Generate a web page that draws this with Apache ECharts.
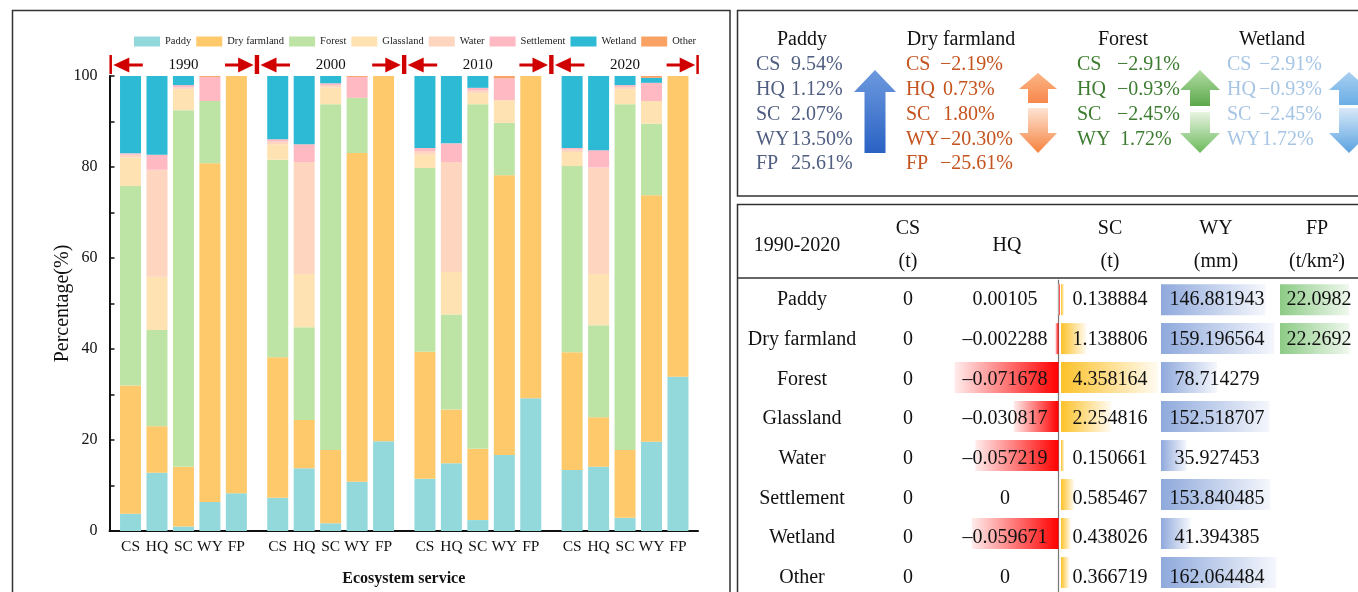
<!DOCTYPE html>
<html><head><meta charset="utf-8">
<script src="https://cdn.jsdelivr.net/npm/echarts@6/dist/echarts.min.js"></script>
<style>html,body{margin:0;padding:0;background:#fff;}#c{width:1358px;height:592px;}</style>
</head><body><div id="c"></div>
<script>
// ---------- left chart data (percent of each land type per bar) ----------
const years = ['1990', '2000', '2010', '2020'];
const services = ['CS', 'HQ', 'SC', 'WY', 'FP'];
const landTypes = ['Paddy', 'Dry farmland', 'Forest', 'Glassland', 'Water', 'Settlement', 'Wetland', 'Other'];
const landColors = ['#93d9dc', '#fec96a', '#bde4a5', '#fee2b1', '#fed5bf', '#feb9c3', '#2dbad4', '#f9a263'];
// order in each array: 1990 CS,HQ,SC,WY,FP | 2000 ... | 2010 ... | 2020 ...
const paddy      = [3.8, 12.8, 1.0, 6.4, 8.3,   7.3, 13.8, 1.7, 10.8, 19.7,   11.5, 14.9, 2.4, 16.7, 29.2,   13.4, 14.1, 2.9, 19.6, 33.9];
const dryFarmland= [28.2, 10.2, 13.1, 74.4, 91.7, 30.9, 10.6, 16.1, 72.3, 80.3, 27.9, 11.8, 15.7, 61.5, 70.8, 25.9, 10.9, 14.9, 54.2, 66.1];
const forest     = [43.8, 21.2, 78.4, 13.7, 0,  43.4, 20.4, 76.0, 12.1, 0,    40.4, 20.9, 75.7, 11.5, 0,    40.9, 20.2, 76.0, 15.7, 0];
const glassland  = [6.3, 11.7, 4.6, 0, 0,       3.4, 11.7, 3.7, 0, 0,         2.9, 9.3, 2.5, 5.0, 0,        3.1, 11.3, 3.3, 5.0, 0];
const water      = [0.6, 23.5, 0.4, 0, 0,       0.6, 24.6, 0.5, 0, 0,         0.8, 24.2, 0.5, 0, 0,         0.5, 23.4, 0.5, 0, 0];
const settlement = [0.3, 3.3, 0.5, 5.3, 0,      0.5, 3.9, 0.4, 4.6, 0,        0.7, 4.1, 0.6, 4.8, 0,        0.4, 3.8, 0.4, 4.0, 0];
const wetland    = [17.0, 17.3, 2.0, 0, 0,      13.9, 15.0, 1.6, 0, 0,        15.8, 14.8, 2.6, 0, 0,        15.8, 16.3, 2.0, 1.1, 0];
const other      = [0, 0, 0, 0.2, 0,            0, 0, 0, 0.2, 0,              0, 0, 0, 0.5, 0,              0, 0, 0, 0.4, 0];
const yTicks = [0, 20, 40, 60, 80, 100];

// ---------- change panel data ----------
const changeServices = ['CS', 'HQ', 'SC', 'WY', 'FP'];
const paddyChange   = [9.54, 1.12, 2.07, 13.50, 25.61];
const dryChange     = [-2.19, 0.73, 1.80, -20.30, -25.61];
const forestChange  = [-2.91, -0.93, -2.45, 1.72];
const wetlandChange = [-2.91, -0.93, -2.45, 1.72];

// ---------- table data (1990-2020 change) ----------
const tableRows = ['Paddy', 'Dry farmland', 'Forest', 'Glassland', 'Water', 'Settlement', 'Wetland', 'Other'];
const csDelta = [0, 0, 0, 0, 0, 0, 0, 0];
const hqDelta = [0.00105, -0.002288, -0.071678, -0.030817, -0.057219, 0, -0.059671, 0];
const scDelta = [0.138884, 1.138806, 4.358164, 2.254816, 0.150661, 0.585467, 0.438026, 0.366719];
const wyDelta = [146.881943, 159.196564, 78.714279, 152.518707, 35.927453, 153.840485, 41.394385, 162.064484];
const fpDelta = [22.0982, 22.2692, null, null, null, null, null, null];

const landData = [paddy, dryFarmland, forest, glassland, water, settlement, wetland, other];
const SERIF = '"Liberation Serif","Times New Roman",serif';

const G0 = 117.3, GW = 132.3, GSTEP = 147.2, TOP = 76, H = 455;
const ROW0 = 300, ROWH = 39.7;
const tTop = ROW0 - ROWH / 2, tH = ROWH * 8;

const grids = [{ left: 109.5, top: TOP, width: 588.5, height: H }];
years.forEach((y, g) => grids.push({ left: G0 + g * GSTEP, top: TOP, width: GW, height: H }));
grids.push({ left: 954, width: 106, top: tTop, height: tH });
grids.push({ left: 1061, width: 111.5, top: tTop, height: tH });
grids.push({ left: 1161, width: 121, top: tTop, height: tH });
grids.push({ left: 1280, width: 100, top: tTop, height: tH });

const xAxes = [{
  type: 'category', gridIndex: 0, data: [''],
  axisLine: { lineStyle: { color: '#111', width: 2 } }, axisTick: { show: false }, axisLabel: { show: false },
  name: 'Ecosystem service', nameLocation: 'middle', nameGap: 40,
  nameTextStyle: { fontFamily: SERIF, fontWeight: 'bold', fontSize: 16, color: '#111' }
}];
const yAxes = [{
  type: 'value', gridIndex: 0, min: yTicks[0], max: yTicks[yTicks.length - 1], interval: 20,
  axisLine: { show: true, lineStyle: { color: '#111', width: 2 } },
  axisTick: { show: true, inside: true, length: 5, lineStyle: { color: '#111', width: 1.5 } },
  minorTick: { show: true, splitNumber: 2, length: 5, lineStyle: { color: '#111', width: 1.5 } },
  splitLine: { show: false },
  axisLabel: { fontFamily: SERIF, fontSize: 16, color: '#111', margin: 12 },
  name: 'Percentage(%)', nameLocation: 'middle', nameGap: 37, nameMoveOverlap: false,
  nameTextStyle: { fontFamily: SERIF, fontSize: 20, color: '#111' }
}];
years.forEach((y, g) => {
  xAxes.push({
    type: 'category', gridIndex: g + 1, data: services,
    axisLine: { show: false }, axisTick: { show: false },
    axisLabel: { interval: 0, fontFamily: SERIF, fontSize: 15.5, color: '#111', margin: 8 }
  });
  yAxes.push({ type: 'value', gridIndex: g + 1, min: 0, max: 100, show: false });
});
const tableRanges = [[-0.072, 0.001], [0, 5], [0, 170], [0, 25]];
tableRanges.forEach((r, i) => {
  xAxes.push({ type: 'value', gridIndex: 5 + i, min: r[0], max: r[1], show: false });
  yAxes.push({
    type: 'category', gridIndex: 5 + i, data: tableRows, inverse: true,
    show: i === 0,
    axisLine: { show: i === 0, onZero: true, lineStyle: { color: '#777', width: 1.2 } },
    axisTick: { show: false }, axisLabel: { show: false }, splitLine: { show: false }
  });
});

const series = [];
landTypes.forEach((name, i) => {
  years.forEach((y, g) => {
    series.push({
      type: 'bar', name: name, xAxisIndex: g + 1, yAxisIndex: g + 1, stack: 'grp' + g,
      barWidth: 21, data: landData[i].slice(g * 5, g * 5 + 5),
      itemStyle: { color: landColors[i] }, emphasis: { disabled: true }
    });
  });
});
function hgrad(c0, c1) {
  return { type: 'linear', x: 0, y: 0, x2: 1, y2: 0, colorStops: [{ offset: 0, color: c0 }, { offset: 1, color: c1 }] };
}
const tableSeries = [
  { data: hqDelta, color: hgrad('#ffecec', '#ff0000') },
  { data: scDelta, color: hgrad('#fdc22a', '#fffbf2') },
  { data: wyDelta, color: hgrad('#8fa9dc', '#f5f7fc') },
  { data: fpDelta, color: hgrad('#8ccb86', '#f0f8ee') }
];
tableSeries.forEach((t, i) => {
  series.push({
    type: 'bar', xAxisIndex: 5 + i, yAxisIndex: 5 + i, barWidth: 31, data: t.data,
    itemStyle: { color: t.color }, emphasis: { disabled: true }, silent: true
  });
});

// ---------- graphics ----------
const gfx = [];
function txt(text, x, y, opt) {
  opt = opt || {};
  gfx.push({
    type: 'text', z: 100, silent: true,
    style: {
      text: text, x: x, y: y, fill: opt.fill || '#111', fontFamily: SERIF,
      fontSize: opt.size || 20, fontWeight: opt.weight || 'normal',
      align: opt.align || 'center', verticalAlign: 'middle'
    }
  });
}
function frame(x, y, w, h) {
  gfx.push({ type: 'rect', z: 90, silent: true, shape: { x: x, y: y, width: w, height: h }, style: { fill: 'none', stroke: '#333', lineWidth: 1.5 } });
}
function line(x1, y1, x2, y2, color, w) {
  gfx.push({ type: 'line', z: 95, silent: true, shape: { x1: x1, y1: y1, x2: x2, y2: y2 }, style: { stroke: color, lineWidth: w } });
}
function poly(points, fill) {
  gfx.push({ type: 'polygon', z: 95, silent: true, shape: { points: points }, style: { fill: fill } });
}
function vgrad(c0, c1) {
  return { type: 'linear', x: 0, y: 0, x2: 0, y2: 1, colorStops: [{ offset: 0, color: c0 }, { offset: 1, color: c1 }] };
}
function upArrow(cx, tip, base, end, hw, sw, fill) {
  poly([[cx, tip], [cx + hw, base], [cx + sw, base], [cx + sw, end], [cx - sw, end], [cx - sw, base], [cx - hw, base]], fill);
}
function downArrow(cx, start, base, tip, hw, sw, fill) {
  poly([[cx - sw, start], [cx + sw, start], [cx + sw, base], [cx + hw, base], [cx, tip], [cx - hw, base], [cx - sw, base]], fill);
}

frame(12.5, 10.5, 717.5, 600);
frame(737.5, 10.5, 700, 185.5);
frame(737.5, 204.5, 700, 420);

// year group annotations
years.forEach((yr, g) => {
  const L = G0 + g * GSTEP, R = L + GW, cy = 65, red = '#d10000';
  line(L - 6.6, 55, L - 6.6, 74, red, 2.5);
  poly([[L - 4, cy], [L + 12, cy - 7.5], [L + 12, cy + 7.5]], red);
  line(L + 11, cy, L + 25.5, cy, red, 3);
  txt(yr, (L + R) / 2, cy, { size: 15 });
  line(R - 24.6, cy, R - 10, cy, red, 3);
  poly([[R + 4, cy], [R - 11.5, cy - 7.5], [R - 11.5, cy + 7.5]], red);
  line(R + 6.4, 55, R + 6.4, 74, red, 2.5);
});

// change panel
function fmtPct(v) { return (v < 0 ? '\u2212' + Math.abs(v).toFixed(2) : v.toFixed(2)) + '%'; }
const panelCols = [
  { title: 'Paddy', tx: 802, lx: 756, vx: 791, color: '#4f5d80', vals: paddyChange },
  { title: 'Dry farmland', tx: 961, lx: 906, vx: 940, color: '#c4531e', vals: dryChange },
  { title: 'Forest', tx: 1123, lx: 1077, vx: 1117, color: '#3c7c2f', vals: forestChange },
  { title: 'Wetland', tx: 1272, lx: 1227, vx: 1259, color: '#a6c5e4', vals: wetlandChange }
];
panelCols.forEach(c => {
  txt(c.title, c.tx, 40, { size: 20 });
  c.vals.forEach((v, k) => {
    const yy = 65 + k * 24.8;
    txt(changeServices[k], c.lx, yy, { size: 20, fill: c.color, align: 'left' });
    txt(fmtPct(v), c.vx + (v >= 0 && c.vals.some(q => q < 0) ? 3 : 0), yy, { size: 20, fill: c.color, align: 'left' });
  });
});
upArrow(875, 70, 92, 153, 21, 10.5, vgrad('#6d99de', '#2a62c4'));
upArrow(1038, 73, 89, 103, 19, 10, vgrad('#fbb586', '#f8874b'));
downArrow(1038, 108, 133, 153, 19, 10, vgrad('#fde4d4', '#f6823e'));
upArrow(1200, 70, 90, 106, 20, 10, vgrad('#b2dca3', '#5ca84c'));
downArrow(1200, 112, 133, 153, 20, 10, vgrad('#e8f4e2', '#6ab95a'));
upArrow(1349, 72, 90, 105, 20, 10, vgrad('#a9cff0', '#6aaee6'));
downArrow(1349, 108, 133, 153, 20, 10, vgrad('#d8e9f8', '#5aa2e0'));

// table
line(737, 278, 1358, 278, '#333', 1.5);
txt('1990-2020', 797, 246);
const heads = [['CS', '(t)', 908], ['HQ', null, 1007], ['SC', '(t)', 1110], ['WY', '(mm)', 1216], ['FP', '(t/km\u00B2)', 1317]];
heads.forEach(h => {
  if (h[1]) { txt(h[0], h[2], 229); txt(h[1], h[2], 262); }
  else txt(h[0], h[2], 246);
});
function fmtNum(v) { return v < 0 ? '\u2013' + String(Math.abs(v)) : String(v); }
tableRows.forEach((r, i) => {
  const yy = ROW0 + i * ROWH;
  txt(r, 802, yy);
  txt(fmtNum(csDelta[i]), 908, yy);
  txt(fmtNum(hqDelta[i]), 1005, yy);
  txt(fmtNum(scDelta[i]), 1110, yy);
  txt(fmtNum(wyDelta[i]), 1217, yy);
  if (fpDelta[i] !== null) txt(fmtNum(fpDelta[i]), 1319, yy);
});

const chart = echarts.init(document.getElementById('c'), null, { renderer: 'canvas' });
chart.setOption({
  animation: false,
  backgroundColor: '#fff',
  legend: {
    data: landTypes, left: 129, top: 31, itemWidth: 26, itemHeight: 10, itemGap: 5,
    icon: 'rect', textStyle: { fontFamily: SERIF, fontSize: 10.5, color: '#222' }
  },
  grid: grids,
  xAxis: xAxes,
  yAxis: yAxes,
  series: series,
  graphic: { elements: gfx }
});
</script></body></html>
